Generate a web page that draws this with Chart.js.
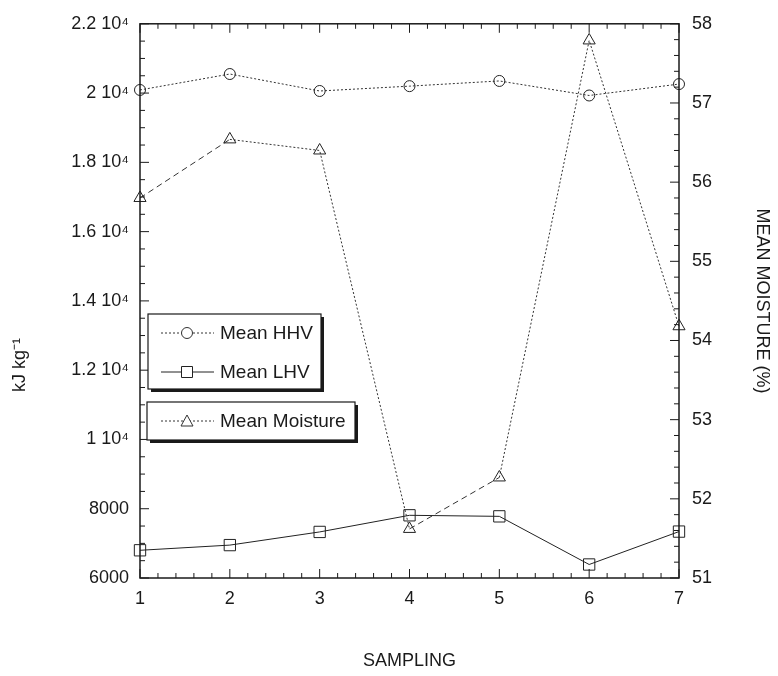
<!DOCTYPE html>
<html>
<head>
<meta charset="utf-8">
<script src="https://cdn.jsdelivr.net/npm/chart.js@4/dist/chart.umd.min.js"></script>
<style>
  html, body { margin: 0; padding: 0; background: #fff; }
  #wrap { width: 778px; height: 676px; position: relative; }
</style>
</head>
<body>
<div id="wrap"><canvas id="c" width="778" height="676"></canvas></div>
<script>
// ---- data ----
const samplings = [1, 2, 3, 4, 5, 6, 7];
const meanHHV = [20090, 20550, 20060, 20200, 20350, 19930, 20260];
const meanLHV = [6800, 6950, 7330, 7810, 7780, 6390, 7340];
const meanMoisture = [55.80, 56.54, 56.40, 51.62, 52.27, 57.79, 54.18];
const leftTicks = [6000, 8000, 10000, 12000, 14000, 16000, 18000, 20000, 22000];
const rightTicks = [51, 52, 53, 54, 55, 56, 57, 58];
const seriesNames = ['Mean HHV', 'Mean LHV', 'Mean Moisture'];

const FONT = "'Liberation Sans', Arial, sans-serif";
const INK = '#1a1a1a';

function pts(ys) { return samplings.map((x, i) => ({ x: x, y: ys[i] })); }
function leftLabel(v) {
  if (v >= 10000) return (Math.round(v / 1000) / 10) + ' 10\u2074';
  return String(v);
}

// frame, inward ticks and legend boxes
const framePlugin = {
  id: 'frame',
  afterDraw(chart) {
    const ctx = chart.ctx;
    const a = chart.chartArea;
    const xs = chart.scales.x, yl = chart.scales.y, yr = chart.scales.y1;
    ctx.save();
    ctx.strokeStyle = INK;
    ctx.lineWidth = 1.5;
    ctx.setLineDash([]);
    ctx.strokeRect(a.left, a.top, a.right - a.left, a.bottom - a.top);
    ctx.lineWidth = 1;
    ctx.beginPath();
    for (let i = 0; i <= 30; i++) {
      const v = 1 + i * 0.2;
      const px = xs.getPixelForValue(v);
      const len = (i % 5 === 0) ? 9 : 5;
      ctx.moveTo(px, a.bottom); ctx.lineTo(px, a.bottom - len);
      ctx.moveTo(px, a.top); ctx.lineTo(px, a.top + len);
    }
    for (let v = 6000; v <= 22000; v += 500) {
      const py = yl.getPixelForValue(v);
      const len = (v % 2000 === 0) ? 9 : 5;
      ctx.moveTo(a.left, py); ctx.lineTo(a.left + len, py);
    }
    for (let i = 0; i <= 35; i++) {
      const v = 51 + i * 0.2;
      const py = yr.getPixelForValue(v);
      const len = (i % 5 === 0) ? 9 : 5;
      ctx.moveTo(a.right, py); ctx.lineTo(a.right - len, py);
    }
    ctx.stroke();

    // left axis title
    ctx.save();
    ctx.translate(20, 365);
    ctx.rotate(-Math.PI / 2);
    ctx.fillStyle = INK;
    ctx.font = '18px ' + FONT;
    ctx.textAlign = 'center';
    ctx.textBaseline = 'middle';
    ctx.fillText('kJ kg\u207B\u00B9', 0, 0);
    ctx.restore();

    // legend boxes
    function box(x, y, w, h) {
      ctx.fillStyle = INK;
      ctx.fillRect(x + 3, y + 3, w, h);
      ctx.fillStyle = '#fff';
      ctx.fillRect(x, y, w, h);
      ctx.strokeStyle = INK;
      ctx.lineWidth = 1.2;
      ctx.setLineDash([]);
      ctx.strokeRect(x, y, w, h);
    }
    box(148, 314, 173, 75);
    box(147, 402, 208, 38);

    const ds = chart.data.datasets;
    const rows = [333, 372, 421];
    ds.forEach((d, i) => {
      const y = rows[i];
      ctx.strokeStyle = d.borderColor;
      ctx.lineWidth = 1;
      ctx.setLineDash(d.legendDash);
      ctx.beginPath();
      ctx.moveTo(161, y); ctx.lineTo(214, y);
      ctx.stroke();
      ctx.setLineDash([]);
      ctx.fillStyle = '#fff';
      ctx.beginPath();
      if (d.pointStyle === 'circle') {
        ctx.arc(187, y, 5.5, 0, Math.PI * 2);
      } else if (d.pointStyle === 'rect') {
        ctx.rect(181.5, y - 5.5, 11, 11);
      } else {
        ctx.moveTo(187, y - 6); ctx.lineTo(193, y + 5); ctx.lineTo(181, y + 5); ctx.closePath();
      }
      ctx.fill(); ctx.stroke();
      ctx.fillStyle = INK;
      ctx.font = '19px ' + FONT;
      ctx.textAlign = 'left';
      ctx.textBaseline = 'middle';
      ctx.fillText(d.label, 220, y + 1);
    });
    ctx.restore();
  }
};

const moistureDashed = [0, 3]; // segment indices drawn dashed

new Chart(document.getElementById('c'), {
  type: 'line',
  data: {
    datasets: [
      {
        label: seriesNames[0], data: pts(meanHHV), yAxisID: 'y', clip: false,
        borderColor: '#333', borderWidth: 1, borderDash: [2, 2], legendDash: [2, 2],
        pointStyle: 'circle', pointRadius: 5.5, pointBackgroundColor: 'rgba(255,255,255,0)',
        pointBorderColor: '#222', pointBorderWidth: 1, tension: 0
      },
      {
        label: seriesNames[1], data: pts(meanLHV), yAxisID: 'y', clip: false,
        borderColor: '#222', borderWidth: 1, legendDash: [],
        pointStyle: 'rect', pointRadius: 8, pointBackgroundColor: 'rgba(255,255,255,0)',
        pointBorderColor: '#222', pointBorderWidth: 1, tension: 0
      },
      {
        label: seriesNames[2], data: pts(meanMoisture), yAxisID: 'y1', clip: false,
        borderColor: '#333', borderWidth: 1, borderDash: [2, 2], legendDash: [2, 2],
        segment: {
          borderDash: ctx => moistureDashed.includes(ctx.p0DataIndex) ? [6, 4] : [2, 2]
        },
        pointStyle: 'triangle', pointRadius: 7, pointBackgroundColor: 'rgba(255,255,255,0)',
        pointBorderColor: '#222', pointBorderWidth: 1, tension: 0
      }
    ]
  },
  options: {
    responsive: false,
    animation: false,
    layout: { autoPadding: false, padding: { top: 20, left: 0, right: 0, bottom: 0 } },
    plugins: { legend: { display: false }, tooltip: { enabled: false } },
    scales: {
      x: {
        type: 'linear', min: 1, max: 7,
        afterFit(s) { s.height = 98; },
        afterBuildTicks(s) { s.ticks = samplings.map(v => ({ value: v })); },
        grid: { display: false, drawTicks: false },
        border: { display: false },
        ticks: { color: INK, font: { family: FONT, size: 18 }, padding: 10, maxRotation: 0 },
        title: { display: true, text: 'SAMPLING', color: INK, font: { family: FONT, size: 18 }, padding: { top: 0, bottom: 4 } }
      },
      y: {
        type: 'linear', position: 'left', min: 6000, max: 22000,
        afterFit(s) { s.width = 140; },
        afterBuildTicks(s) { s.ticks = leftTicks.map(v => ({ value: v })); },
        grid: { display: false, drawTicks: false },
        border: { display: false },
        ticks: { color: INK, font: { family: FONT, size: 18 }, padding: 11, callback: v => leftLabel(v) }
      },
      y1: {
        type: 'linear', position: 'right', min: 51, max: 58,
        afterFit(s) { s.width = 99; },
        afterBuildTicks(s) { s.ticks = rightTicks.map(v => ({ value: v })); },
        grid: { display: false, drawTicks: false },
        border: { display: false },
        ticks: { color: INK, font: { family: FONT, size: 18 }, padding: 13 },
        title: { display: true, text: 'MEAN MOISTURE (%)', color: INK, font: { family: FONT, size: 18 }, padding: { top: 5, bottom: 0 } }
      }
    }
  },
  plugins: [framePlugin]
});
</script>
</body>
</html>
